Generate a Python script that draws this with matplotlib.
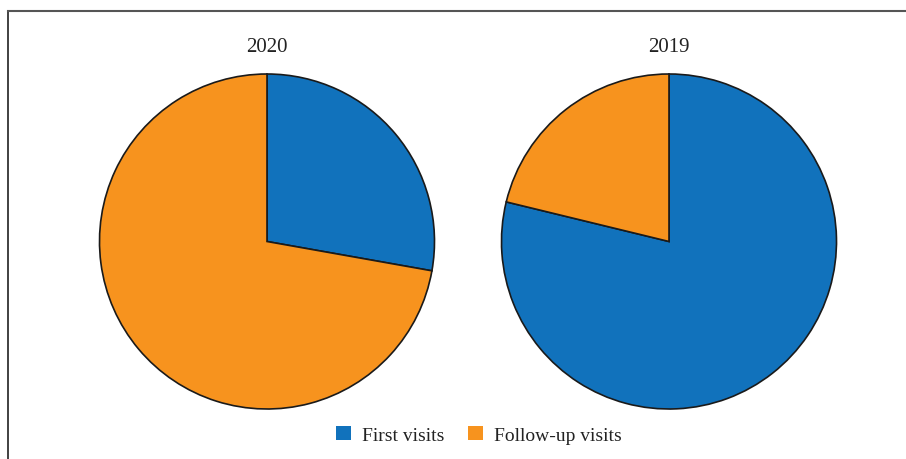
import matplotlib.pyplot as plt
from matplotlib.lines import Line2D
from matplotlib.patches import Patch

# Share of visits by type, per year (percent)
years = ["2020", "2019"]
categories = ["First visits", "Follow-up visits"]
shares_2020 = [27.8, 72.2]
shares_2019 = [78.8, 21.2]
colors = ["#1172BC", "#F7931E"]

plt.rcParams['font.family'] = ['Liberation Serif', 'DejaVu Serif']

W, H = 906, 460
fig = plt.figure(figsize=(W / 100, H / 100), dpi=100)

# pie centres and radius in pixels
centers = [(267, 242.5), (669, 242.5)]
r = 167.5

for year, vals, (cx, cy) in zip(years, [shares_2020, shares_2019], centers):
    ax = fig.add_axes([(cx - r) / W, (H - cy - r) / H, 2 * r / W, 2 * r / H])
    ax.pie(vals, colors=colors, startangle=90, counterclock=False,
           wedgeprops=dict(edgecolor="#1a1a1a", linewidth=1.2))
    ax.set_xlim(-1, 1)
    ax.set_ylim(-1, 1)
    ax.set_aspect("equal")
    ax.axis("off")
    fig.text(cx / W, (H - 48) / H, year, ha="center", va="center",
             fontsize=15, color="#222222")

# frame lines on the left and top
fig.add_artist(Line2D([8 / W, 8 / W], [0, (H - 12) / H], color="#333333", lw=1.3))
fig.add_artist(Line2D([8 / W, 1], [(H - 12) / H, (H - 12) / H], color="#555555", lw=1.5))

handles = [Patch(facecolor=c, edgecolor="none") for c in colors]
fig.legend(handles, categories, loc="center", bbox_to_anchor=(479 / W, (H - 436) / H),
           ncol=2, frameon=False, fontsize=14, handlelength=0.75, handleheight=0.75,
           handletextpad=0.6, columnspacing=1.2, labelcolor="#222222")

fig.savefig("out.png", dpi=100)
